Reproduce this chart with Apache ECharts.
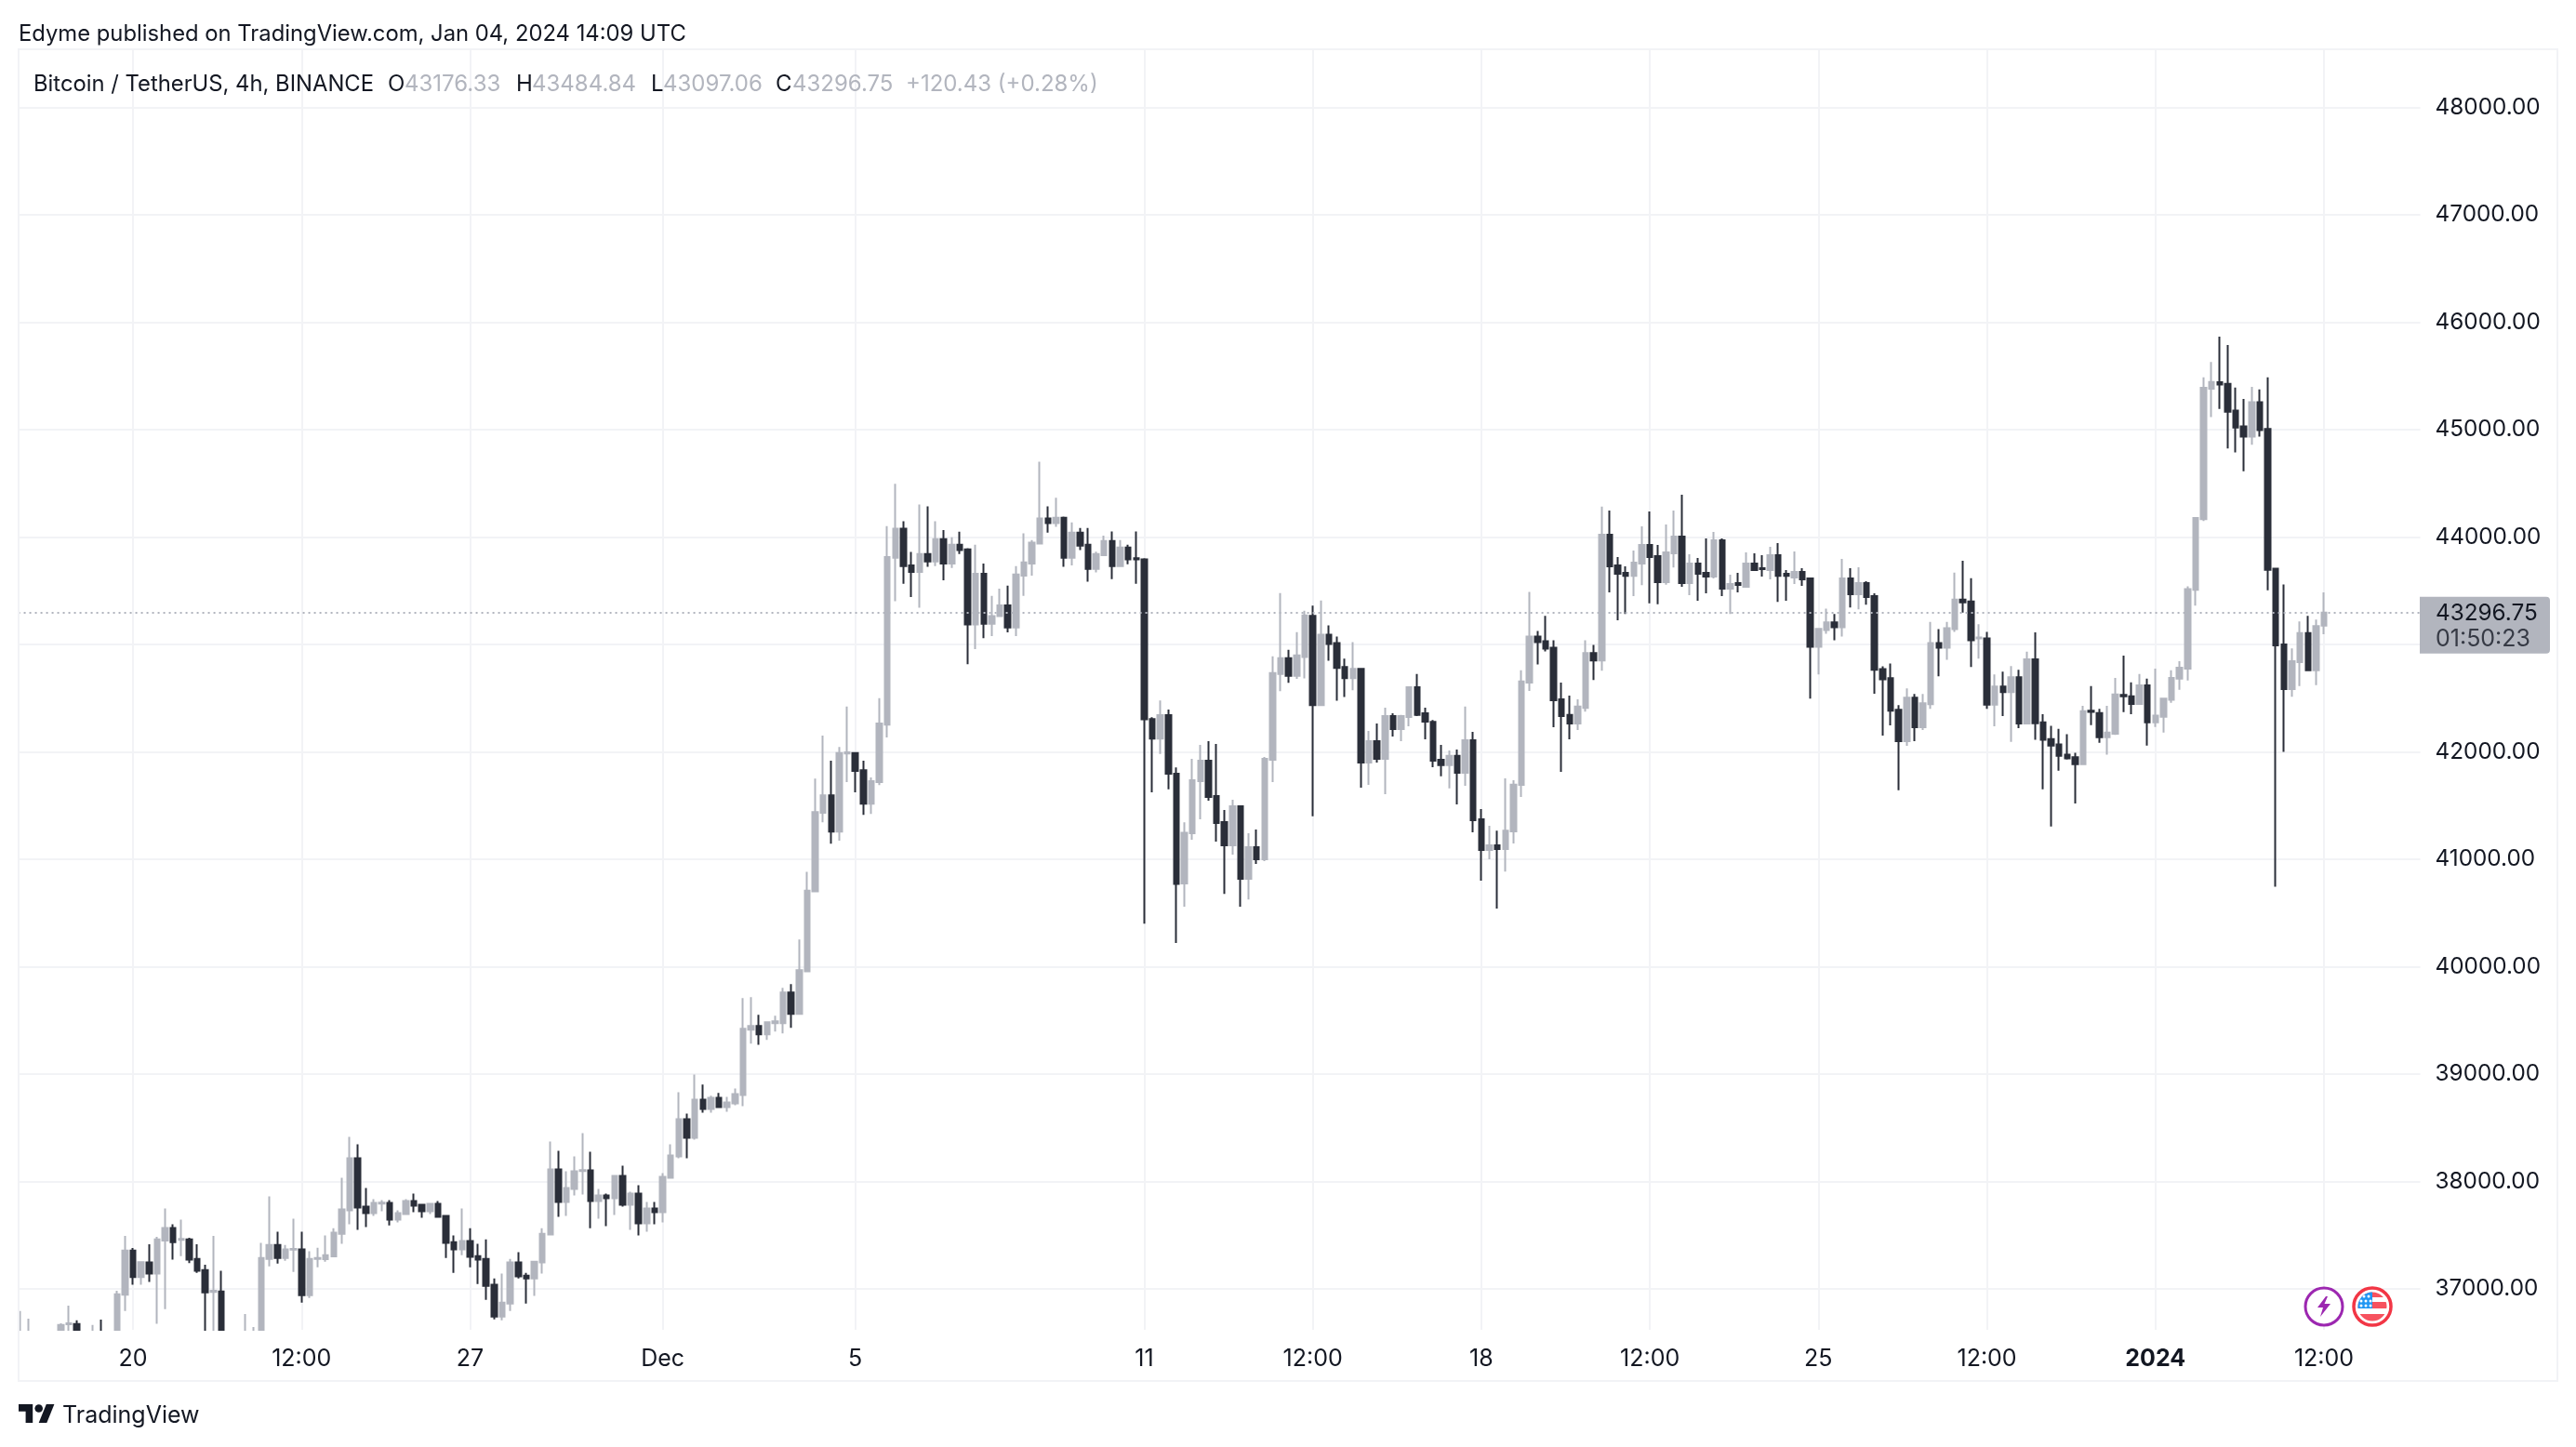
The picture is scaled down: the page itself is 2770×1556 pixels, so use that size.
<!DOCTYPE html>
<html>
<head>
<meta charset="utf-8">
<title>BTCUSDT 4h</title>
<style>
  html, body { margin: 0; padding: 0; background: #fff; }
  #main { width: 2770px; height: 1556px; }
</style>
<script src="https://cdn.jsdelivr.net/npm/echarts@6/dist/echarts.min.js"></script>
</head>
<body>
<div id="main"></div>
<script>
var opens = [
  36560,36520,36560,36540,36520,36560,36670,36673,36570,36585,
  36600,36560,36550,36945,37358,37110,37246,37142,37451,37567,
  37457,37462,37280,37176,36972,36977,36560,36540,36580,36590,
  36560,37280,37410,37289,37365,37367,36942,37280,37278,37303,
  37514,37731,38217,37766,37705,37795,37801,37645,37697,37818,
  37783,37723,37792,37679,37436,37367,37445,37306,37280,37038,
  36743,36864,37246,37124,37098,37246,37506,38113,37809,37931,
  38098,38104,37818,37870,37844,38052,37783,37887,37610,37749,
  37714,38035,38234,38581,38407,38763,38676,38780,38694,38728,
  38806,39413,39448,39370,39474,39474,39760,39561,39957,40702,
  41433,41596,41259,41985,41989,41830,41518,41720,42255,43808,
  44078,43737,43677,43844,43773,43982,43755,43929,43886,43187,
  43659,43194,43265,43364,43159,43642,43755,43940,44174,44131,
  44181,43808,44043,43929,43705,43833,43965,43730,43904,43805,
  43794,42306,42125,42342,41798,40775,41243,41728,41919,41590,
  41346,41130,41494,40818,41113,41000,41928,42725,42873,42708,
  42884,43267,42437,43092,43014,42790,42687,42773,41902,42101,
  41936,42335,42214,42326,42603,42361,42281,41928,41877,41963,
  41806,42110,41373,41087,41130,41095,41260,41694,42647,43075,
  43032,42971,42491,42344,42266,42411,42920,42851,44023,43737,
  43668,43640,43754,43928,43823,43581,43850,44006,43572,43754,
  43668,43633,43971,43520,43572,43538,43754,43711,43693,43832,
  43659,43624,43676,43616,42980,43136,43206,43162,43616,43468,
  43572,43451,42772,42686,42393,42100,42505,42230,42445,43014,
  42971,43143,43419,43402,43057,43058,42440,42610,42558,42696,
  42266,42863,42275,42120,42071,41975,41950,41886,42384,42363,
  42138,42170,42532,42518,42447,42620,42275,42328,42486,42683,
  42775,43510,44168,45382,45442,45428,45179,45032,44937,45256,
  45007,43706,43000,42585,42837,43106,42760,43176.33
];
var closes = [
  36600,36590,36540,36510,36560,36665,36680,36570,36590,36600,
  36570,36550,36951,37358,37110,37249,37142,37462,37567,37436,
  37465,37272,37168,36968,36983,36560,36540,36580,36600,36600,
  37289,37410,37289,37367,37373,36942,37280,37289,37315,37523,
  37740,38217,37757,37705,37801,37803,37645,37705,37818,37775,
  37723,37792,37671,37428,37367,37445,37298,37272,37029,36743,
  36873,37246,37116,37098,37254,37514,38113,37809,37939,38095,
  38107,37818,37870,37844,38052,37783,37887,37610,37749,37714,
  38043,38243,38581,38407,38763,38676,38780,38694,38737,38815,
  39422,39448,39370,39483,39491,39760,39561,39968,40709,41440,
  41596,41259,41989,41996,41823,41518,41728,42266,43815,44078,
  43730,43677,43844,43773,43982,43755,43929,43879,43187,43659,
  43194,43265,43364,43159,43652,43766,43950,44174,44131,44181,
  43808,44043,43922,43705,43844,43965,43730,43904,43794,43794,
  42303,42125,42342,41798,40772,41248,41737,41919,41581,41338,
  41130,41494,40818,41113,41000,41936,42734,42873,42708,42899,
  43271,42437,43092,43006,42782,42687,42773,41902,42101,41936,
  42335,42214,42335,42603,42344,42283,41919,41877,41963,41806,
  42110,41364,41087,41130,41095,41268,41695,42656,43075,43023,
  42962,42482,42335,42266,42422,42921,42851,44023,43728,43659,
  43640,43763,43928,43815,43581,43858,44006,43572,43754,43659,
  43633,43971,43520,43564,43555,43754,43693,43702,43832,43640,
  43640,43676,43607,42980,43145,43206,43162,43616,43468,43572,
  43442,42764,42677,42385,42100,42505,42230,42453,43014,42971,
  43152,43419,43393,43040,43066,42440,42610,42558,42696,42266,
  42863,42268,42113,42060,41965,41940,41886,42380,42373,42138,
  42180,42535,42518,42447,42620,42275,42338,42497,42690,42785,
  43517,44179,45392,45445,45421,45168,45021,44937,45256,44996,
  43695,42993,42585,42845,43106,42760,43172,43296.75
];
var lows = [
  36540,36500,36480,36470,36490,36520,36580,36540,36500,36520,
  36500,36480,36520,36795,37038,37038,37064,36676,36812,37272,
  37306,37240,37150,36560,36590,36500,36480,36500,36520,36530,
  36540,37211,37237,37263,37159,36873,36916,37202,37254,37303,
  37419,37601,37549,37575,37679,37723,37592,37619,37697,37714,
  37662,37697,37662,37289,37150,37315,37202,37046,36899,36717,
  36708,36795,37098,36864,36934,37142,37506,37671,37679,37870,
  37879,37566,37653,37584,37688,37766,37549,37497,37532,37601,
  37619,38026,38217,38217,38390,38642,38642,38694,38650,38711,
  38702,39283,39274,39318,39396,39379,39431,39552,39957,40695,
  41344,41146,41174,41720,41624,41415,41422,41692,42135,43404,
  43567,43443,43343,43723,43730,43599,43713,43844,42818,42957,
  43060,43078,43265,43113,43078,43453,43642,43940,44043,44096,
  43723,43737,43879,43585,43673,43823,43610,43730,43748,43567,
  40400,41625,41982,41652,40222,40558,41182,41373,41546,41165,
  40679,41043,40558,40627,40957,40983,41720,42566,42644,42680,
  42685,41402,42437,42850,42477,42511,42575,41668,41694,41902,
  41607,42144,42101,42240,42335,42118,41859,41773,41662,41512,
  41685,41251,40801,41000,40541,40887,41147,41581,42569,42815,
  42936,42231,41815,42118,42205,42376,42669,42757,43485,43226,
  43284,43451,43552,43384,43375,43558,43717,43537,43460,43408,
  43477,43616,43451,43284,43485,43538,43693,43633,43607,43397,
  43408,43564,43546,42497,42722,43100,43040,43075,43345,43327,
  43371,42541,42152,42247,41644,42057,42100,42204,42402,42704,
  42859,43118,43298,42790,42868,42402,42240,42335,42093,42222,
  42266,42113,41652,41305,41826,41929,41521,41886,42250,42085,
  41975,42159,42370,42352,42447,42060,42233,42180,42458,42578,
  42666,43363,44151,45119,45193,44825,44790,44614,44860,44937,
  43505,40745,42000,42514,42613,42760,42623,43097.06
];
var highs = [
  36795,36723,36600,36590,36600,36679,36844,36708,36610,36665,
  36714,36600,36983,37494,37380,37254,37416,37486,37749,37601,
  37645,37477,37416,37225,37494,37168,36600,36610,36766,36645,
  37428,37861,37532,37410,37653,37532,37350,37384,37497,37566,
  38035,38416,38347,37939,37835,37827,37827,37731,37835,37887,
  37783,37792,37818,37679,37497,37749,37566,37419,37462,37098,
  37142,37280,37341,37150,37263,37566,38373,38286,38095,38234,
  38451,38277,37931,37887,38052,38147,37905,37965,37809,37809,
  38078,38347,38832,38633,38997,38902,38798,38824,38789,38867,
  39708,39717,39552,39491,39543,39803,39838,40254,40883,41752,
  42153,41919,42046,42422,41989,41919,41763,42500,44103,44497,
  44149,43862,44305,44287,44149,44067,44000,44050,43897,43929,
  43755,43453,43521,43549,43730,44035,43972,44703,44287,44366,
  44192,44138,44085,44085,43865,44014,44053,43972,43929,44053,
  43805,42323,42480,42395,41855,41345,41936,42066,42101,42075,
  41459,41555,41503,41243,41277,41954,42890,43480,42951,43115,
  43315,43362,43411,43179,43075,42868,43023,42782,42196,42266,
  42413,42361,42344,42612,42725,42413,42298,42066,42014,42023,
  42422,42187,41468,41312,41268,41754,41737,42760,43491,43127,
  43267,43040,42647,42524,42490,43040,42997,44284,44249,43815,
  43728,43876,44101,44240,43928,44118,44249,44396,43841,43806,
  43988,44049,43988,43650,43668,43858,43850,43832,43910,43945,
  43693,43867,43711,43616,43154,43335,43284,43798,43711,43720,
  43590,43477,42798,42824,42436,42591,42540,42540,43212,43143,
  43212,43669,43781,43617,43190,43118,42722,42748,42800,42765,
  42933,43113,42352,42243,42215,42165,41993,42430,42613,42402,
  42430,42690,42898,42648,42725,42683,42775,42504,42760,42845,
  43542,44179,45488,45631,45867,45789,45393,45288,45400,45375,
  45488,43713,43560,42965,43215,43268,43232,43484.84
];
var tickIndexes = [15, 36, 57, 81, 105, 141, 162, 183, 204, 225, 246, 267, 288];
var tickLabels = ['20', '12:00', '27', 'Dec', '5', '11', '12:00', '18', '12:00', '25', '12:00', '2024', '12:00'];
var lastPrice = 43296.75;

var FONT = 'Inter, "Noto Sans", sans-serif';
var INK = '#131722';
var UP = '#b2b5be';
var DOWN = '#2a2e39';
var GRID = '#f2f3f6';

var categories = [];
for (var c = 0; c <= 300; c++) categories.push(String(c));

// first slot stays empty, it only leaves room left of the first candle
var candles = [['-', '-', '-', '-']];
for (var i = 0; i < opens.length; i++) {
  candles.push([opens[i], closes[i], lows[i], highs[i]]);
}

function isTick(index) {
  return tickIndexes.indexOf(index) >= 0;
}

var flagSvg = '<svg xmlns="http://www.w3.org/2000/svg" width="44" height="44" viewBox="0 0 44 44">' +
  '<defs><clipPath id="c"><circle cx="22" cy="22" r="15.5"/></clipPath></defs>' +
  '<circle cx="22" cy="22" r="20" fill="#fff" stroke="#f23645" stroke-width="3.5"/>' +
  '<g clip-path="url(#c)">' +
  '<rect x="0" y="6" width="44" height="6" fill="#f7525f"/>' +
  '<rect x="0" y="17" width="44" height="7" fill="#f7525f"/>' +
  '<rect x="0" y="30" width="44" height="8" fill="#f7525f"/>' +
  '<rect x="0" y="6" width="22" height="18" fill="#2196f3"/>' +
  '<g fill="#fff"><circle cx="13" cy="11" r="1.5"/><circle cx="18" cy="11" r="1.5"/>' +
  '<circle cx="10" cy="16" r="1.5"/><circle cx="15" cy="16" r="1.5"/><circle cx="20" cy="16" r="1.5"/>' +
  '<circle cx="10" cy="21" r="1.5"/><circle cx="15" cy="21" r="1.5"/><circle cx="20" cy="21" r="1.5"/></g>' +
  '</g></svg>';

function label(x, y, text, color, size) {
  return {
    type: 'text', x: x, y: y, z: 20, silent: true,
    style: { text: text, fill: color, font: (size || 24) + 'px ' + FONT, textVerticalAlign: 'middle' }
  };
}

function poly(points, fill) {
  return { type: 'polygon', z: 21, silent: true, shape: { points: points }, style: { fill: fill } };
}

var chart = echarts.init(document.getElementById('main'));

var option = {
  backgroundColor: '#fff',
  animation: false,
  grid: { left: 13.57, right: 167.43, top: 53, bottom: 126 },
  xAxis: [{
    // gridlines, behind the candles
    type: 'category',
    data: categories,
    boundaryGap: false,
    axisLine: { show: false },
    axisTick: { show: false },
    axisLabel: { show: false, interval: function (index) { return isTick(index); } },
    splitLine: {
      show: true,
      interval: function (index) { return isTick(index); },
      lineStyle: { color: GRID, width: 2 }
    }
  }, {
    // labels, above the white strip under the pane
    type: 'category',
    position: 'bottom',
    z: 10,
    data: categories,
    boundaryGap: false,
    axisLine: { show: false },
    axisTick: { show: false },
    splitLine: { show: false },
    axisLabel: {
      interval: function (index) { return isTick(index); },
      formatter: function (value) {
        var t = tickLabels[tickIndexes.indexOf(Number(value))];
        return t === '2024' ? '{b|2024}' : t;
      },
      rich: { b: { fontWeight: 700, fontSize: 25, fontFamily: FONT, color: INK } },
      color: INK, fontSize: 25, fontFamily: FONT, margin: 19
    }
  }],
  yAxis: {
    type: 'value',
    position: 'right',
    min: 36619,
    max: 48543,
    minInterval: 1000,
    maxInterval: 1000,
    axisLine: { show: false },
    axisTick: { show: false },
    splitLine: { showMinLine: false, showMaxLine: false, lineStyle: { color: GRID, width: 2 } },
    axisLabel: {
      showMinLabel: false,
      showMaxLabel: false,
      formatter: function (v) { return v % 1000 === 0 ? v.toFixed(2) : ''; },
      color: INK, fontSize: 24.3, fontFamily: FONT, margin: 16, align: 'left', padding: [4, 0, 0, 0]
    }
  },
  series: [{
    type: 'candlestick',
    xAxisIndex: 0,
    data: candles,
    barWidth: 6,
    itemStyle: { color: UP, color0: DOWN, borderColor: UP, borderColor0: DOWN, borderWidth: 2 },
    markLine: {
      silent: true,
      symbol: 'none',
      animation: false,
      label: { show: false },
      lineStyle: { color: UP, type: [2, 4], width: 2 },
      data: [{ yAxis: lastPrice }]
    }
  }],
  graphic: [
    { type: 'rect', z: 5, silent: true, shape: { x: 0, y: 1431, width: 2770, height: 125 }, style: { fill: '#fff' } },
    { type: 'rect', z: 5, silent: true, shape: { x: 0, y: 53, width: 20, height: 1380 }, style: { fill: '#fff' } },
    { type: 'rect', z: 11, silent: true, shape: { x: 20, y: 53, width: 2730, height: 1432 }, style: { fill: 'none', stroke: GRID, lineWidth: 2 } },
    label(20, 36.5, 'Edyme published on TradingView.com, Jan 04, 2024 14:09 UTC', INK, 23.8),
    label(36, 90.5, 'Bitcoin / TetherUS, 4h, BINANCE', INK, 23.8),
    label(417, 90.5, 'O', INK), label(435, 90.5, '43176.33', UP),
    label(555, 90.5, 'H', INK), label(572, 90.5, '43484.84', UP),
    label(700, 90.5, 'L', INK), label(713, 90.5, '43097.06', UP),
    label(834, 90.5, 'C', INK), label(852, 90.5, '43296.75', UP),
    label(974, 90.5, '+120.43 (+0.28%)', UP),
    poly([[20, 1510], [35.2, 1510], [35.2, 1530], [27.6, 1530], [27.6, 1517.8], [20, 1517.8]], INK),
    poly([[50.3, 1530], [41.7, 1530], [49.8, 1510], [58.4, 1510]], INK),
    { type: 'circle', z: 20, silent: true, shape: { cx: 41.7, cy: 1514.5, r: 4.3 }, style: { fill: INK } },
    label(67, 1522, 'TradingView', INK, 25),
    { type: 'circle', z: 20, silent: true, shape: { cx: 2499, cy: 1405, r: 20 }, style: { fill: '#fff', stroke: '#9c27b0', lineWidth: 3 } },
    poly([[2501, 1394], [2492, 1406], [2498, 1406], [2495, 1416], [2506, 1402], [2499.5, 1402], [2503, 1394]], '#9c27b0'),
    { type: 'image', z: 20, silent: true,
      style: { image: 'data:image/svg+xml;charset=utf-8,' + encodeURIComponent(flagSvg), x: 2529, y: 1383, width: 44, height: 44 } }
  ]
};
chart.setOption(option);

// price tag follows the last price through the axis
var tagY = chart.convertToPixel({ yAxisIndex: 0 }, lastPrice);
chart.setOption({
  graphic: option.graphic.concat([
    { type: 'rect', z: 15, silent: true, shape: { x: 2602, y: tagY - 17, width: 140, height: 61, r: [0, 4, 4, 0] }, style: { fill: UP } },
    label(2619, tagY + 1, lastPrice.toFixed(2), INK, 24.3),
    label(2619, tagY + 29, '01:50:23', '#363a45', 25)
  ])
}, { replaceMerge: ['graphic'] });
</script>
</body>
</html>
